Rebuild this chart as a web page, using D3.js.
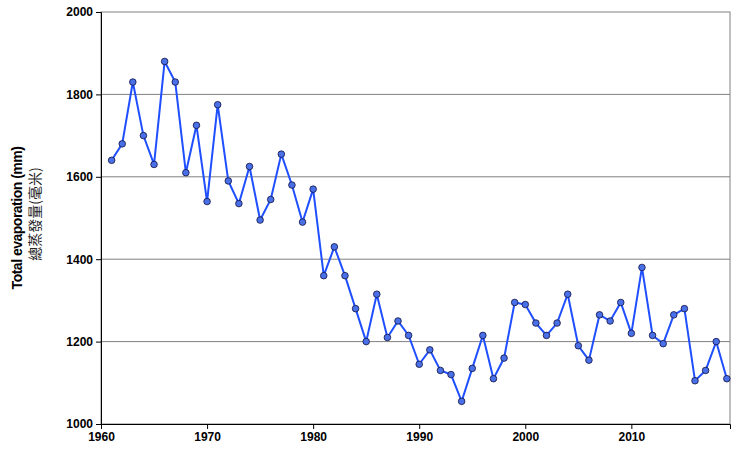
<!DOCTYPE html><html><head><meta charset="utf-8"><script src="https://cdn.jsdelivr.net/npm/d3@7"></script>
<style>body{margin:0;background:#fff}</style></head><body><svg id="c" width="750" height="457"></svg>
<script>
const years = d3.range(1961, 2020);
const values = [1640,1680,1830,1700,1630,1880,1830,1610,1725,1540,1775,1590,1535,1625,1495,1545,1655,1580,1490,1570,1360,1430,1360,1280,1200,1315,1210,1250,1215,1145,1180,1130,1120,1055,1135,1215,1110,1160,1295,1290,1245,1215,1245,1315,1190,1155,1265,1250,1295,1220,1380,1215,1195,1265,1280,1105,1130,1200,1110];
const xTicks = [1960,1970,1980,1990,2000,2010];
const yTicks = [1000,1200,1400,1600,1800,2000];
const svg = d3.select("#c");
const L=101,R=730,T=12,B=424;
const x = d3.scaleLinear().domain([1960,2019.3]).range([L,R]);
const y = d3.scaleLinear().domain([1000,2000]).range([B,T]);
svg.append("g").selectAll("line").data(yTicks.slice(1,-1)).join("line")
 .attr("x1",L).attr("x2",R).attr("y1",d=>y(d)).attr("y2",d=>y(d)).attr("stroke","#808080").attr("stroke-width",1);
svg.append("rect").attr("x",L).attr("y",T).attr("width",R-L).attr("height",B-T).attr("fill","none").attr("stroke","#808080");
const ax = svg.append("g").attr("transform",`translate(0,${B})`).call(d3.axisBottom(x).tickValues(xTicks).tickFormat(d3.format("d")).tickSize(5));
const ay = svg.append("g").attr("transform",`translate(${L},0)`).call(d3.axisLeft(y).tickValues(yTicks).tickFormat(d3.format("d")).tickSize(5));
[ax,ay].forEach(a=>{a.select(".domain").attr("stroke","#000");a.selectAll("line").attr("stroke","#000");
 a.selectAll("text").attr("font-family","Liberation Sans, Arial").attr("font-size",12).attr("font-weight","bold").attr("fill","#000");});
svg.append("path").datum(values).attr("fill","none").attr("stroke","#1f4fff").attr("stroke-width",2)
 .attr("d",d3.line().x((d,i)=>x(years[i])).y(d=>y(d)));
svg.append("g").selectAll("circle").data(values).join("circle").attr("cx",(d,i)=>x(years[i])).attr("cy",d=>y(d)).attr("r",3.3)
 .attr("fill","#4a70e8").attr("stroke","#101040").attr("stroke-width",0.8);
svg.append("text").attr("transform","translate(22,218) rotate(-90)").attr("text-anchor","middle").attr("font-family","Liberation Sans, Arial").attr("font-size",14).attr("font-weight","bold").attr("letter-spacing",-0.5).text("Total evaporation (mm)");
svg.append("text").attr("transform","translate(40,214) rotate(-90)").attr("text-anchor","middle").attr("font-family","Noto Sans CJK TC").attr("font-size",14).attr("fill","#222").text("總蒸發量(毫米)");
</script></body></html>
